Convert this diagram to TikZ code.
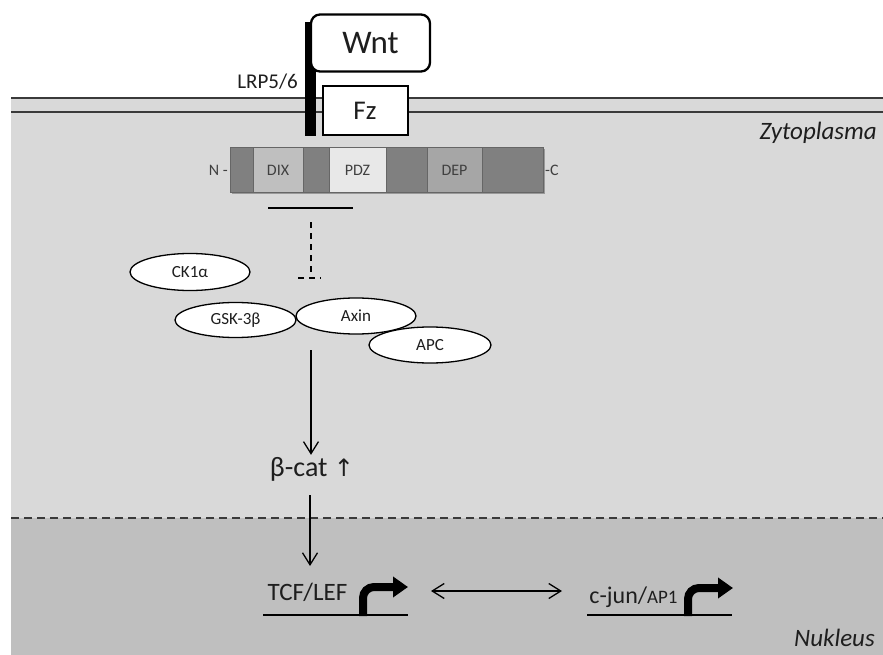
\documentclass[tikz,border=0pt]{standalone}
\usepackage{fontspec}
\setmainfont{Carlito}
\newfontfamily\arrowfont{DejaVu Sans}
\usetikzlibrary{shapes.geometric,arrows.meta}
\definecolor{cyto}{HTML}{D9D9D9}
\definecolor{nucl}{HTML}{BFBFBF}
\definecolor{segdark}{HTML}{808080}
\definecolor{segdix}{HTML}{BFBFBF}
\definecolor{segpdz}{HTML}{E8E8E8}
\definecolor{segdep}{HTML}{A6A6A6}
\definecolor{linegray}{HTML}{3A3A3A}
\definecolor{txt}{HTML}{1E1E1E}
\tikzset{
  fs/.style={font=\fontsize{#1}{#1}\selectfont},
  membrane/.style={draw=linegray,line width=1.8pt},
  envelope/.style={draw=linegray,line width=2pt,dash pattern=on 8pt off 5pt},
  prot/.style={ellipse,draw,fill=white,line width=1.3pt,minimum width=120pt,
               minimum height=36pt,inner sep=0pt,text=txt,fs=17},
  seg/.style={draw=segdark!80!black,line width=0.4pt},
  domlabel/.style={text=black!75,fs=16},
  flow/.style={line width=1.3pt,-{Straight Barb[length=12pt,width=15pt,line width=1.3pt]}},
  both/.style={line width=1.3pt,{Straight Barb[length=12pt,width=15pt,line width=1.3pt]}-{Straight Barb[length=12pt,width=15pt,line width=1.3pt]}},
  inhib/.style={line width=1.4pt,dash pattern=on 6pt off 5pt},
  gene/.style={line width=2.5pt},
  tss/.style={line width=8pt,rounded corners=11pt,-{Triangle[length=15pt,width=20pt]}},
  region/.style={text=txt,font=\fontsize{25}{25}\selectfont\itshape},
}
\begin{document}
\begin{tikzpicture}[x=1pt,y=-1pt]
\useasboundingbox (0,0) rectangle (883,655);

% compartments
\fill[cyto] (11,98) rectangle (883,518);
\fill[nucl] (11,518) rectangle (883,655);
\draw[membrane] (11,98) -- (883,98);
\draw[membrane] (11,112) -- (883,112);
\draw[envelope] (11,518) -- (883,518);

% receptor complex
\fill[black] (305,22) rectangle (316,136);
\node[draw,line width=2.3pt,rounded corners=9pt,fill=white,minimum width=119pt,
      minimum height=57pt,inner sep=0pt,text=txt,fs=33] (wnt) at (370.5,43) {Wnt};
\node[draw,line width=2pt,fill=white,minimum width=85pt,minimum height=49pt,
      inner sep=0pt,text=txt,fs=27] (fz) at (365,111) {Fz};
\node[anchor=east,text=txt,fs=21,inner sep=0pt] (lrp) at (298,82) {LRP5/6};

% Dishevelled domain bar
\fill[black!40] (232,149) rectangle (545,194);
\fill[segdark] (230,147) rectangle (253,192);
\fill[segdix]  (253,147) rectangle (303,192);
\fill[segdark] (303,147) rectangle (329,192);
\fill[segpdz]  (329,147) rectangle (386,192);
\fill[segdark] (386,147) rectangle (427,192);
\fill[segdep]  (427,147) rectangle (482,192);
\fill[segdark] (482,147) rectangle (543,192);
\foreach \xa/\xb in {230/253,253/303,303/329,329/386,386/427,427/482,482/543}
  \draw[seg] (\xa,147) rectangle (\xb,192);
\node[domlabel] (dix) at (278,170) {DIX};
\node[domlabel] (pdz) at (357.5,170) {PDZ};
\node[domlabel] (dep) at (454.5,170) {DEP};
\node[domlabel,anchor=east,inner sep=0pt] (nterm) at (228,170) {N -};
\node[domlabel,anchor=west,inner sep=0pt] (cterm) at (545,170) {-C};

% inhibition of the destruction complex
\coordinate (bara) at (268,208);
\coordinate (barb) at (353,208);
\draw[line width=2.5pt] (bara) -- (barb);
\coordinate (inhtop) at (311,222);
\coordinate (inhbot) at (311,278);
\coordinate (inhl) at (298,278);
\coordinate (inhr) at (321,278);
\draw[inhib] (inhtop) -- (inhbot);
\draw[inhib] (inhl) -- (inhr);

% destruction complex
\node[prot,minimum height=37pt] (ck1) at (190,272) {CK1α};
\node[prot,minimum width=121pt,minimum height=35pt] (gsk) at (235.5,320) {GSK-3β};
\node[prot] (axin) at (356,316) {Axin};
\node[prot,minimum width=122pt] (apc) at (430,345) {APC};

% beta-catenin
\node[text=txt,fs=28,inner sep=2pt] (bcat) at (312,469) {β-cat {\arrowfont\fontsize{24}{24}\selectfont ↑}};
\coordinate (cplx) at (311,350);
\draw[flow] (cplx) -- (bcat.north -| cplx);
\coordinate (bout) at (310,495);
\coordinate (tcfin) at (310,566);
\draw[flow] (bout) -- (tcfin);

% target genes in the nucleus
\node[text=txt,fs=25,inner sep=0pt] (tcf) at (307.5,592) {TCF/LEF};
\coordinate (tcfa) at (263,615);
\coordinate (tcfb) at (408,615);
\draw[gene] (tcfa) -- (tcfb);
\coordinate (tcfs) at (363,616);
\coordinate (tcft) at (408,587);
\draw[tss] (tcfs) |- (tcft);

\node[text=txt,inner sep=0pt] (cjun) at (633.5,597)
  {{\fontsize{24}{24}\selectfont c-jun/}{\fontsize{19}{19}\selectfont AP1}};
\coordinate (juna) at (587,615);
\coordinate (junb) at (732,615);
\draw[gene] (juna) -- (junb);
\coordinate (juns) at (688,616);
\coordinate (junt) at (733,588);
\draw[tss] (juns) |- (junt);

\coordinate (xa) at (431,591);
\coordinate (xb) at (562,591);
\draw[both] (xa) -- (xb);

% compartment labels
\node[region,anchor=east,inner sep=0pt] (zyto) at (877,133) {Zytoplasma};
\node[region,anchor=east,inner sep=0pt] (nuk) at (875,638) {Nukleus};
\end{tikzpicture}
\end{document}
